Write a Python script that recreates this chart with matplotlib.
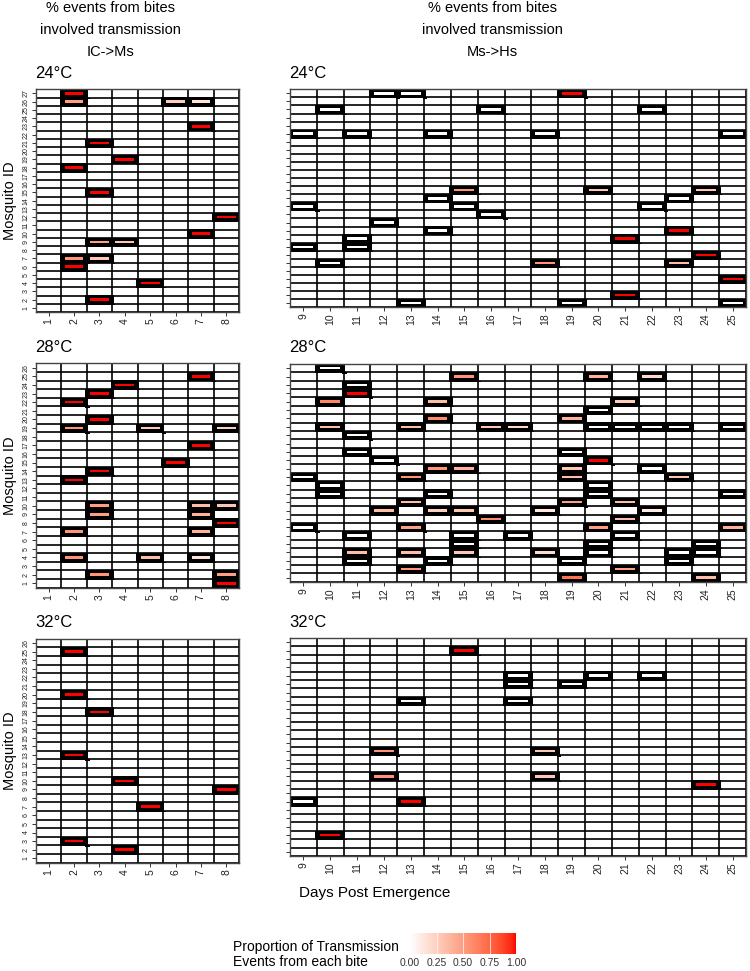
import numpy as np
import matplotlib
matplotlib.use("Agg")
import matplotlib.pyplot as plt
from matplotlib.patches import Rectangle
from matplotlib.colors import ListedColormap
from matplotlib import font_manager

plt.rcParams['font.family'] = ['Liberation Sans', 'DejaVu Sans']
_names = {f.name for f in font_manager.fontManager.ttflist}
if 'Liberation Sans Narrow' in _names:
    ytick_family, ytick_size = ['Liberation Sans Narrow', 'Liberation Sans'], 6.0
else:
    ytick_family, ytick_size = ['Liberation Sans', 'DejaVu Sans'], 5.0

# ---------------- data ----------------
ic_days_lab = list(range(1, 9))
hs_days_lab = list(range(9, 26))

# 24C  IC->Ms
ic24_day  = [2, 2, 6, 7, 7, 3, 4, 2, 3, 8, 7, 3, 4, 2, 3, 2, 5, 3]
ic24_id   = [27, 26, 26, 26, 23, 21, 19, 18, 15, 12, 10, 9, 9, 7, 7, 6, 4, 2]
ic24_prop = [1.0, 0.5, 0.25, 0.15, 1.0, 1.0, 1.0, 1.0, 1.0, 1.0, 1.0, 0.5, 0.3, 0.55, 0.3, 1.0, 1.0, 1.0]

# 24C  Ms->Hs
hs24_day  = [12, 13, 19, 10, 16, 22, 9, 11, 14, 18, 25, 15, 20, 24, 14, 23, 9, 15, 22, 16, 12, 14, 23,
             11, 21, 9, 11, 24, 10, 18, 23, 25, 21, 13, 19, 25]
hs24_id   = [27, 27, 27, 25, 25, 25, 22, 22, 22, 22, 22, 15, 15, 15, 14, 14, 13, 13, 13, 12, 11, 10, 10,
             9, 9, 8, 8, 7, 6, 6, 6, 4, 2, 1, 1, 1]
hs24_prop = [0, 0, 1.0, 0, 0, 0, 0, 0, 0, 0, 0, 0.55, 0.3, 0.3, 0, 0, 0, 0, 0, 0, 0, 0, 1.0,
             0, 1.0, 0, 0, 1.0, 0, 0.55, 0.35, 1.0, 1.0, 0, 0, 0]

# 28C  IC->Ms
ic28_day  = [7, 4, 3, 2, 3, 2, 5, 8, 7, 6, 3, 2, 3, 7, 8, 3, 7, 8, 2, 7, 2, 5, 7, 3, 8, 8]
ic28_id   = [25, 24, 23, 22, 20, 19, 19, 19, 17, 15, 14, 13, 10, 10, 10, 9, 9, 8, 7, 7, 4, 4, 4, 2, 2, 1]
ic28_prop = [1, 1, 1, 1, 1, 0.55, 0.3, 0.25, 1, 1, 1, 1, 0.5, 0.35, 0.3, 0.5, 0.4, 1, 0.55, 0.4,
             0.55, 0.35, 0.15, 0.55, 0.5, 1]

# 28C  Ms->Hs
hs28_day  = [10, 15, 20, 22, 11, 11, 10, 14, 21, 20, 14, 19, 10, 13, 16, 17, 20, 21, 22, 23, 25,
             11, 11, 19, 12, 20, 14, 15, 19, 22, 9, 13, 19, 23, 10, 20, 10, 14, 20, 25,
             13, 19, 21, 12, 14, 15, 18, 22, 16, 21, 9, 13, 20, 25, 11, 15, 17, 21, 15, 20, 24,
             11, 13, 15, 18, 20, 23, 24, 11, 14, 19, 23, 13, 21, 19, 24]
hs28_id   = [26, 25, 25, 25, 24, 23, 22, 22, 22, 21, 20, 20, 19, 19, 19, 19, 19, 19, 19, 19, 19,
             18, 16, 16, 15, 15, 14, 14, 14, 14, 13, 13, 13, 13, 12, 12, 11, 11, 11, 11,
             10, 10, 10, 9, 9, 9, 9, 9, 8, 8, 7, 7, 7, 7, 6, 6, 6, 6, 5, 5, 5,
             4, 4, 4, 4, 4, 4, 4, 3, 3, 3, 3, 2, 2, 1, 1]
hs28_prop = [0, 0.55, 0.4, 0.2, 0, 1, 0.6, 0.35, 0.25, 0, 0.6, 0.4, 0.35, 0.35, 0.3, 0.2, 0, 0, 0, 0, 0,
             0, 0, 0, 0, 1, 0.55, 0.4, 0.3, 0, 0, 0.55, 0.35, 0.3, 0, 0, 0, 0, 0, 0,
             0.35, 0.5, 0.35, 0.35, 0.25, 0.3, 0.12, 0.1, 0.6, 0.35, 0, 0.5, 0.5, 0.4, 0, 0, 0, 0, 0, 0, 0,
             0.35, 0.35, 0.3, 0.2, 0, 0, 0, 0, 0, 0, 0, 0.55, 0.5, 0.7, 0.35]

# 32C  IC->Ms
ic32_day  = [2, 2, 3, 2, 4, 8, 5, 2, 4]
ic32_id   = [25, 20, 18, 13, 10, 9, 7, 3, 2]
ic32_prop = [1, 1, 1, 1, 1, 1, 1, 1, 1]

# 32C  Ms->Hs
hs32_day  = [15, 17, 20, 22, 17, 19, 13, 17, 12, 18, 12, 18, 24, 9, 13, 10]
hs32_id   = [25, 22, 22, 22, 21, 21, 19, 19, 13, 13, 10, 10, 9, 7, 7, 3]
hs32_prop = [1, 0, 0, 0, 0, 0, 0, 0, 0.55, 0.3, 0.55, 0.3, 1, 0, 1, 1]

n_mosq = {'24': 27, '28': 26, '32': 26}
temps = ['24°C', '28°C', '32°C']
legend_ticks = [0.0, 0.25, 0.5, 0.75, 1.0]

# ---------------- colour map (white -> red, CIELAB interpolation) ----------------
def srgb_to_lab(rgb):
    rgb = np.asarray(rgb, float)
    lin = np.where(rgb <= 0.04045, rgb / 12.92, ((rgb + 0.055) / 1.055) ** 2.4)
    M = np.array([[0.4124, 0.3576, 0.1805], [0.2126, 0.7152, 0.0722], [0.0193, 0.1192, 0.9505]])
    xyz = M @ lin / np.array([0.95047, 1.0, 1.08883])
    f = np.where(xyz > 0.008856, np.cbrt(xyz), 7.787 * xyz + 16 / 116)
    return np.array([116 * f[1] - 16, 500 * (f[0] - f[1]), 200 * (f[1] - f[2])])

def lab_to_srgb(lab):
    L, a, b = lab
    fy = (L + 16) / 116
    fx = fy + a / 500
    fz = fy - b / 200
    f = np.array([fx, fy, fz])
    xyz = np.where(f ** 3 > 0.008856, f ** 3, (f - 16 / 116) / 7.787) * np.array([0.95047, 1.0, 1.08883])
    Minv = np.array([[3.2406, -1.5372, -0.4986], [-0.9689, 1.8758, 0.0415], [0.0557, -0.2040, 1.0570]])
    lin = Minv @ xyz
    lin = np.clip(lin, 0, 1)
    rgb = np.where(lin <= 0.0031308, 12.92 * lin, 1.055 * lin ** (1 / 2.4) - 0.055)
    return np.clip(rgb, 0, 1)

lab_w = srgb_to_lab([1, 1, 1])
lab_r = srgb_to_lab([1, 0, 0])
cols = [lab_to_srgb((1 - t) * lab_w + t * lab_r) for t in np.linspace(0, 1, 256)]
cmap = ListedColormap(cols)

# ---------------- figure ----------------
W, H = 750, 971
fig = plt.figure(figsize=(W / 100, H / 100), dpi=100)

def rect(x0, y0, x1, y1):
    return [x0 / W, 1 - y1 / H, (x1 - x0) / W, (y1 - y0) / H]

left_x = (36, 239)
right_x = (290, 746)
left_y = [(89.3, 312), (363.3, 587.7), (638.7, 862.7)]
right_y = [(89.3, 307.3), (364, 581.7), (638, 856)]

panels = [
    (ic24_day, ic24_id, ic24_prop, hs24_day, hs24_id, hs24_prop, n_mosq['24']),
    (ic28_day, ic28_id, ic28_prop, hs28_day, hs28_id, hs28_prop, n_mosq['28']),
    (ic32_day, ic32_id, ic32_prop, hs32_day, hs32_id, hs32_prop, n_mosq['32']),
]

def draw_panel(ax, days, ids, props, xlabs, n, show_y):
    x0, x1 = xlabs[0] - 0.5, xlabs[-1] + 0.5
    ax.set_xlim(x0, x1)
    ax.set_ylim(0.5, n + 0.5)
    for xv in np.arange(x0, x1 + 0.01, 1.0):
        ax.axvline(xv, color='black', lw=1.2, zorder=1)
    for yv in np.arange(0.5, n + 0.51, 1.0):
        ax.axhline(yv, color='black', lw=1.2, zorder=1)
    for d, i, p in zip(days, ids, props):
        ax.add_patch(Rectangle((d + 0.45, i - 0.64), 0.16, 0.14, facecolor='black',
                               edgecolor='none', zorder=2))
        ax.add_patch(Rectangle((d - 0.56, i - 0.6), 1.12, 1.12, facecolor='black',
                               edgecolor='none', zorder=3))
        ax.add_patch(Rectangle((d - 0.37, i - 0.15), 0.74, 0.30, facecolor=cmap(float(p)),
                               edgecolor='none', zorder=4))
    ax.set_xticks(xlabs)
    ax.set_xticklabels([str(v) for v in xlabs], rotation=90, fontsize=7.5, color='#222222')
    ax.set_yticks(range(1, n + 1))
    if show_y:
        ax.set_yticklabels([str(v) for v in range(1, n + 1)], rotation=90, va='center',
                           fontsize=ytick_size, family=ytick_family, color='#222222')
    else:
        ax.set_yticklabels([])
    ax.tick_params(axis='both', length=3, width=0.7, color='#333333', pad=1.5)
    for s in ax.spines.values():
        s.set_color('#444444')
        s.set_linewidth(1.0)
        s.set_zorder(5)

for r, (icd, ici, icp, hsd, hsi, hsp, n) in enumerate(panels):
    axL = fig.add_axes(rect(left_x[0], left_y[r][0], left_x[1], left_y[r][1]))
    draw_panel(axL, icd, ici, icp, ic_days_lab, n, True)
    axR = fig.add_axes(rect(right_x[0], right_y[r][0], right_x[1], right_y[r][1]))
    draw_panel(axR, hsd, hsi, hsp, hs_days_lab, n, False)
    ty = left_y[r][0] - 16
    fig.text(35 / W, 1 - ty / H, temps[r], fontsize=12, va='center', ha='left')
    fig.text(289 / W, 1 - ty / H, temps[r], fontsize=12, va='center', ha='left')
    cy = (left_y[r][0] + left_y[r][1]) / 2
    fig.text(10 / W, 1 - cy / H, 'Mosquito ID', fontsize=10.5, rotation=90,
             ha='center', va='center')

# column headers
for cx, third in [(110, 'IC->Ms'), (492, 'Ms->Hs')]:
    for k, line in enumerate(['% events from bites', 'involved transmission', third]):
        fig.text(cx / W, 1 - (8 + 22 * k) / H, line, fontsize=10.5, ha='center', va='center')

fig.text(375 / W, 1 - 893 / H, 'Days Post Emergence', fontsize=11, ha='center', va='center')

# legend
fig.text(233 / W, 1 - 947 / H, 'Proportion of Transmission', fontsize=10, ha='left', va='center')
fig.text(233 / W, 1 - 962 / H, 'Events from each bite', fontsize=10, ha='left', va='center')
cax = fig.add_axes(rect(410, 933, 516, 954))
cax.imshow(np.linspace(0, 1, 256)[None, :], aspect='auto', cmap=cmap, extent=[0, 1, 0, 1])
for t in legend_ticks[1:-1]:
    cax.axvline(t, color='white', lw=0.6, alpha=0.8)
cax.set_xlim(0, 1)
cax.set_xticks(legend_ticks)
cax.set_xticklabels(['%.2f' % t for t in legend_ticks], fontsize=7.5, color='#333333')
cax.tick_params(axis='x', length=0, pad=3)
cax.set_yticks([])
for s in cax.spines.values():
    s.set_visible(False)

fig.savefig('out.png', dpi=100)
